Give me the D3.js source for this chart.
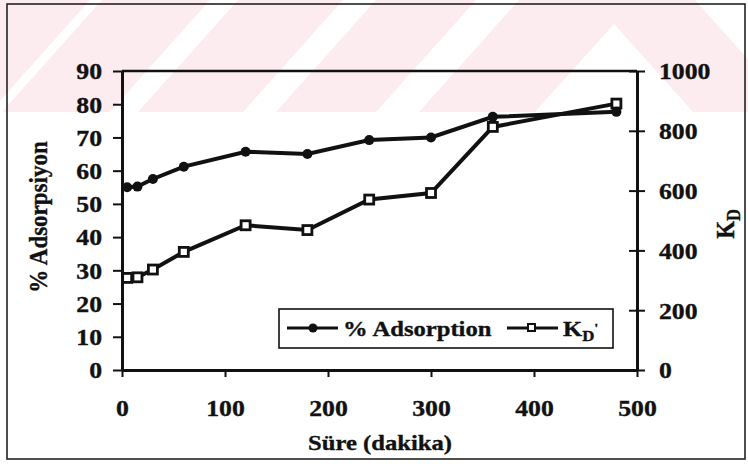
<!DOCTYPE html>
<html>
<head>
<meta charset="utf-8">
<script src="https://cdn.jsdelivr.net/npm/d3@7"></script>
<style>
  body { margin: 0; background: #fff; }
  text { font-family: "Liberation Serif", "Times New Roman", serif; font-weight: bold; fill: #111; stroke: #111; stroke-width: 0.35px; }
</style>
</head>
<body>
<svg width="748" height="468"></svg>
<script>
// values
const time = [5, 15, 30, 60, 120, 180, 240, 300, 360, 480];
const adsorption = [55, 55.2, 57.5, 61.2, 65.7, 65.0, 69.2, 70.0, 76.2, 77.7];
const kd = [308, 310, 336, 395, 484, 468, 570, 592, 813, 891];
const xTicks = [0, 100, 200, 300, 400, 500];
const yLeftTicks = [0, 10, 20, 30, 40, 50, 60, 70, 80, 90];
const yRightTicks = [0, 200, 400, 600, 800, 1000];

// margin convention
let margin = { top: 71, right: 111, bottom: 98, left: 122 };
let width = 748 - margin.left - margin.right,
    height = 468 - margin.top - margin.bottom;
const sx = 1.12; // the scan is a bit wider than tall

let svg = d3.select('svg');

// faint pink watermark band at the top of the scan
let wm = svg.append('g').attr('fill', '#fdecef');
let band = 112, slope = 100;
[[0, 90], [102, 210], [238, 343], [376, 476]].forEach(s => {
  wm.append('polygon')
    .attr('points', `${s[0]},0 ${s[1]},0 ${s[1] - slope},${band} ${s[0] - slope},${band}`);
});
// the "A" shaped piece on the right
wm.append('polygon')
  .attr('points', `519,0 695,0 ${695 + slope},${band} 693,${band} 614,24 535,${band} ${519 - slope},${band}`);

// outer frame
svg.append('rect')
  .attr('x', 7).attr('y', 4).attr('width', 738).attr('height', 455)
  .attr('fill', 'none').attr('stroke', '#222').attr('stroke-width', 1.6);

let g = svg.append('g')
  .attr('transform', `translate(${margin.left},${margin.top})`);

// scales
let xScale = d3.scaleLinear().domain([0, 500]).range([0, width]);
let yLeft = d3.scaleLinear().domain([0, 90]).range([height, 0]);
let yRight = d3.scaleLinear().domain([0, 1000]).range([height, 0]);

// plot box top edge
g.append('line')
  .attr('x1', 0).attr('x2', width).attr('y1', 0).attr('y2', 0)
  .attr('stroke', '#111').attr('stroke-width', 2.5);

// x axis
let xAxis = g.append('g')
  .attr('transform', `translate(0,${height})`)
  .call(d3.axisBottom(xScale).tickValues(xTicks).tickSizeInner(7).tickSizeOuter(0));
xAxis.selectAll('text')
  .attr('y', 0).attr('dy', 0)
  .attr('transform', 'translate(0,46) scale(' + sx + ',1)')
  .style('font-size', '23px');

// left axis
let lAxis = g.append('g')
  .call(d3.axisLeft(yLeft).tickValues(yLeftTicks).tickSizeInner(9).tickSizeOuter(0));
lAxis.selectAll('text')
  .attr('x', 0).attr('dy', '0.34em')
  .attr('transform', 'translate(-20,0) scale(' + sx + ',1)')
  .style('font-size', '23px');

// right axis, ticks cross the line
let rAxis = g.append('g')
  .attr('transform', `translate(${width},0)`)
  .call(d3.axisRight(yRight).tickValues(yRightTicks).tickFormat(d3.format('d'))
    .tickSizeInner(8).tickSizeOuter(0));
rAxis.selectAll('.tick line').attr('x1', -8);
rAxis.selectAll('text')
  .attr('x', 0).attr('dy', '0.34em')
  .attr('transform', 'translate(22,0) scale(' + sx + ',1)')
  .style('font-size', '23px');

[xAxis, lAxis, rAxis].forEach(a => {
  a.select('.domain').attr('stroke', '#111').attr('stroke-width', 3);
  a.selectAll('.tick line').attr('stroke', '#111').attr('stroke-width', 2);
});

// lines
let adsLine = d3.line().x((d, i) => xScale(time[i])).y(d => yLeft(d));
let kdLine = d3.line().x((d, i) => xScale(time[i])).y(d => yRight(d));

g.append('path').datum(kd)
  .attr('d', kdLine).attr('fill', 'none')
  .attr('stroke', '#111').attr('stroke-width', 4);
g.append('path').datum(adsorption)
  .attr('d', adsLine).attr('fill', 'none')
  .attr('stroke', '#111').attr('stroke-width', 4);

// markers
g.append('g').selectAll('rect')
  .data(kd).enter().append('rect')
  .attr('x', (d, i) => xScale(time[i]) - 4.5)
  .attr('y', d => yRight(d) - 4.5)
  .attr('width', 9).attr('height', 9)
  .attr('fill', '#fff').attr('stroke', '#111').attr('stroke-width', 2.8);
g.append('g').selectAll('circle')
  .data(adsorption).enter().append('circle')
  .attr('cx', (d, i) => xScale(time[i]))
  .attr('cy', d => yLeft(d))
  .attr('r', 5)
  .attr('fill', '#111');

// axis titles
svg.append('text')
  .attr('text-anchor', 'middle')
  .attr('transform', 'translate(380,450) scale(' + sx + ',1)')
  .style('font-size', '22px')
  .text('Süre (dakika)');

svg.append('text')
  .attr('text-anchor', 'middle')
  .attr('transform', 'translate(47,217) scale(' + sx + ',1) rotate(-90)')
  .style('font-size', '23px')
  .text('% Adsorpsiyon');

let kdTitle = svg.append('text')
  .attr('text-anchor', 'middle')
  .attr('transform', 'translate(734,224) scale(' + sx + ',1) rotate(-90)')
  .style('font-size', '23px');
kdTitle.append('tspan').text('K');
kdTitle.append('tspan').attr('dy', 5).style('font-size', '16px').text('D');

// legend
let leg = svg.append('g');
leg.append('rect')
  .attr('x', 279).attr('y', 309).attr('width', 334).attr('height', 39)
  .attr('fill', '#fff').attr('stroke', '#111').attr('stroke-width', 1.6);

leg.append('line')
  .attr('x1', 287).attr('x2', 338).attr('y1', 328).attr('y2', 328)
  .attr('stroke', '#111').attr('stroke-width', 3);
leg.append('circle')
  .attr('cx', 313).attr('cy', 328).attr('r', 4.5).attr('fill', '#111');
leg.append('text')
  .attr('transform', 'translate(343,336) scale(' + sx + ',1)')
  .style('font-size', '22px')
  .text('% Adsorption');

leg.append('line')
  .attr('x1', 507).attr('x2', 558).attr('y1', 328).attr('y2', 328)
  .attr('stroke', '#111').attr('stroke-width', 3);
leg.append('rect')
  .attr('x', 528).attr('y', 324).attr('width', 7).attr('height', 7)
  .attr('fill', '#fff').attr('stroke', '#111').attr('stroke-width', 2);
let kdLeg = leg.append('text')
  .attr('transform', 'translate(563,336) scale(' + sx + ',1)')
  .style('font-size', '22px');
kdLeg.append('tspan').text('K');
kdLeg.append('tspan').attr('dy', 5).style('font-size', '15px').text('D');
kdLeg.append('tspan').attr('dy', -9).style('font-size', '13px').text("'");
</script>
</body>
</html>
